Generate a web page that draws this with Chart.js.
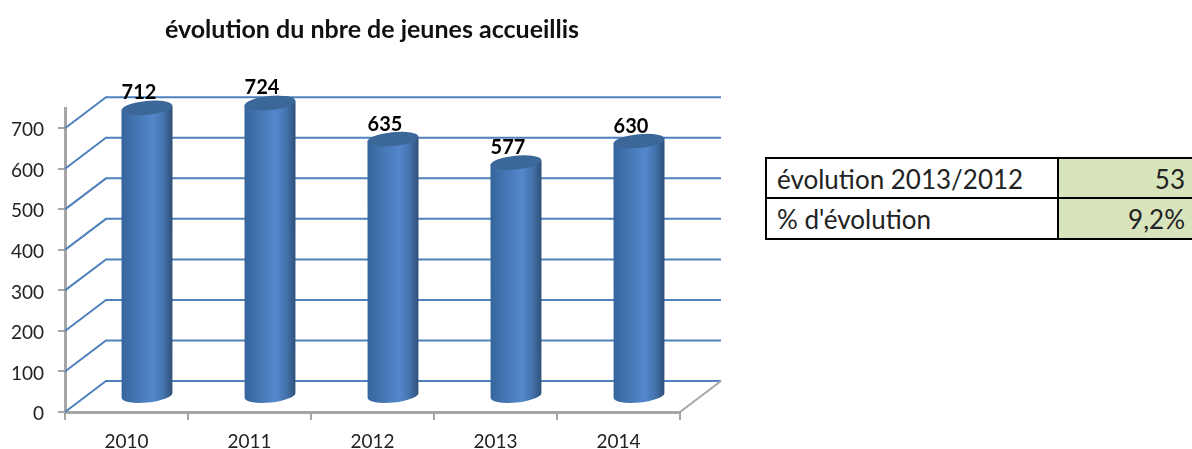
<!DOCTYPE html>
<html>
<head>
<meta charset="utf-8">
<script src="https://cdn.jsdelivr.net/npm/chart.js@4"></script>
<style>
html, body { margin: 0; padding: 0; background: #fff; overflow: hidden; width: 1192px; height: 449px; }
#wrap { position: absolute; left: 0; top: 0; width: 744px; height: 449px; }
#stats { position: absolute; left: 765px; top: 157px; width: 429px; border-collapse: collapse; font-family: Lato, sans-serif; font-size: 26px; color: #222; }
#stats td { border: 2px solid #000; height: 41px; padding: 1px 0 0 0; box-sizing: border-box; }
#stats tr:first-child td { height: 40px; }
#stats td.name { width: 292px; padding-left: 10px; }
#stats td.val { background: #d8e4bc; text-align: right; padding-right: 7px; }
</style>
</head>
<body>
<div id="wrap"><canvas id="myChart"></canvas></div>
<table id="stats"></table>
<script>
const years = ['2010', '2011', '2012', '2013', '2014']
const jeunes = [712, 724, 635, 577, 630]
const tableNames = ['évolution 2013/2012', "% d'évolution"]
const tableValues = ['53', '9,2%']

// depth of the fake 3d box, in pixels
const depthX = 41
const depthY = 31

tableNames.forEach((name, i) => {
    const row = document.getElementById('stats').insertRow()
    const a = row.insertCell()
    a.className = 'name'
    a.textContent = name
    const b = row.insertCell()
    b.className = 'val'
    b.textContent = tableValues[i]
})

const box3d = {
    id: 'box3d',
    beforeDatasetsDraw(chart) {
        const ctx = chart.ctx
        const y = chart.scales.y
        const x = chart.scales.x
        ctx.save()
        ctx.strokeStyle = '#4f81bd'
        ctx.lineWidth = 2
        y.ticks.forEach(t => {
            const py = y.getPixelForValue(t.value)
            ctx.beginPath()
            ctx.moveTo(x.left, py)
            ctx.lineTo(x.left + depthX, py - depthY)
            ctx.lineTo(x.right + depthX, py - depthY)
            ctx.stroke()
        })
        ctx.strokeStyle = '#a6a6a6'
        ctx.beginPath()
        ctx.moveTo(x.right, y.bottom)
        ctx.lineTo(x.right + depthX, y.bottom - depthY)
        ctx.stroke()
        ctx.restore()
    }
}

const cylinders = {
    id: 'cylinders',
    afterDatasetsDraw(chart) {
        const ctx = chart.ctx
        const tilt = -0.1
        chart.getDatasetMeta(0).data.forEach((bar, i) => {
            const cx = bar.x + depthX / 2
            const r = bar.width / 2
            const top = bar.y - depthY / 2
            const bottom = bar.base - depthY / 2
            const grad = ctx.createLinearGradient(cx - r, 0, cx + r, 0)
            grad.addColorStop(0, '#35659c')
            grad.addColorStop(0.3, '#4676b4')
            grad.addColorStop(0.62, '#5388cb')
            grad.addColorStop(0.82, '#4473ad')
            grad.addColorStop(1, '#2f5078')

            ctx.save()
            ctx.fillStyle = grad
            ctx.beginPath()
            ctx.ellipse(cx, bottom, r, 7, tilt, 0, Math.PI)
            ctx.lineTo(cx - r, top + 2)
            ctx.lineTo(cx + r, top - 2)
            ctx.closePath()
            ctx.fill()
            ctx.fillStyle = '#3b6899'
            ctx.beginPath()
            ctx.ellipse(cx, top, r, 7, tilt, 0, Math.PI * 2)
            ctx.fill()

            ctx.fillStyle = '#000'
            ctx.font = 'bold 20px Lato, sans-serif'
            ctx.textAlign = 'center'
            ctx.textBaseline = 'middle'
            ctx.fillText(jeunes[i], bar.x + 12.5, bar.y - 30.5)
            ctx.restore()
        })
    }
}

new Chart(document.getElementById('myChart'), {
    type: 'bar',
    data: {
        labels: years,
        datasets: [{
            label: 'jeunes accueillis',
            data: jeunes,
            backgroundColor: 'transparent',
            categoryPercentage: 1,
            barPercentage: 0.415
        }]
    },
    options: {
        responsive: true,
        maintainAspectRatio: false,
        animation: false,
        plugins: {
            legend: { display: false },
            tooltip: { enabled: false },
            title: {
                display: true,
                text: 'évolution du nbre de jeunes accueillis',
                color: '#111',
                font: { family: 'Lato, sans-serif', size: 25, weight: 'bold', lineHeight: 1.2 },
                padding: { top: 15, bottom: 63 }
            }
        },
        scales: {
            x: {
                grid: { drawOnChartArea: false, color: '#a6a6a6', tickLength: 8, lineWidth: 2 },
                border: { color: '#a6a6a6', width: 3 },
                ticks: { color: '#222', font: { family: 'Lato, sans-serif', size: 19 }, padding: 10 },
                afterFit(scale) { scale.height = 37 }
            },
            y: {
                min: 0,
                max: 750,
                grid: { drawOnChartArea: false, color: '#a6a6a6', tickLength: 7, lineWidth: 2 },
                border: { color: '#a6a6a6', width: 3 },
                ticks: { stepSize: 100, includeBounds: false, labelOffset: 2, color: '#222', font: { family: 'Lato, sans-serif', size: 19 }, padding: 14 },
                afterFit(scale) { scale.width = 65 }
            },
            // empty axis, only keeps room for the depth of the box on the right
            spacer: {
                type: 'linear',
                position: 'right',
                grid: { display: false },
                border: { display: false },
                ticks: { display: false },
                afterFit(scale) { scale.width = 64 }
            }
        }
    },
    plugins: [box3d, cylinders]
})
</script>
</body>
</html>
